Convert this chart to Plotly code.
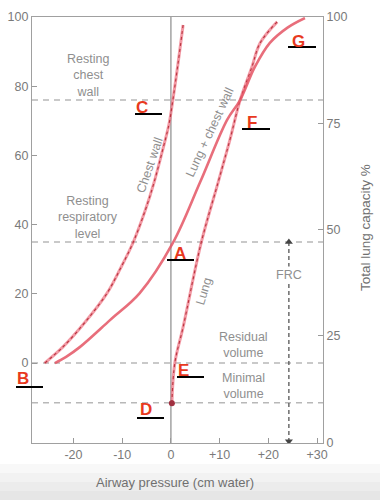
import plotly.graph_objects as go

# ---- data ----
chest_p = [-25.9, -22.2, -17.5, -13.1, -10.3, -7.8, -5.3, -3.5, -1.8, -0.4, 0.4, 1.5, 2.5]
chest_v = [0, 4.6, 12, 20.2, 27.5, 34.7, 44, 52, 61, 69, 76, 87, 97.7]

total_p = [-23.8, -21.5, -18.7, -12.5, -6.4, 0.4, 6.0, 11.5, 14.2, 17.2, 20.3, 24.0, 27.5]
total_v = [0, 1.8, 4.6, 12.4, 20.2, 34.7, 52.3, 70.2, 76, 85.5, 92.5, 97, 99.7]

lung_p = [0.2, 0.8, 2.5, 6.2, 9.7, 12.1, 14.2, 16.6, 18.3, 21.8]
lung_v = [-11.6, 0, 10.4, 34.7, 52.3, 64.5, 76, 85.5, 92.5, 98.6]

levels = [76, 35, 0, -11.5]          # resting chest wall, resting level, RV, minimal volume
frc_x = 24.2
frc_range = [35, -22.6]

x_ticks = [-20, -10, 0, 10, 20, 30]
x_labels = ["-20", "-10", "0", "+10", "+20", "+30"]
left_ticks = [0, 20, 40, 60, 80, 100]
right_ticks = [0, 25, 50, 75, 100]

X_RANGE = [-28.5, 31.2]
Y_RANGE = [-23.1, 100]
Y2_RANGE = [-0.2, 100]

W, H = 380, 500
L, R, T, B = 32, 57, 17, 57


def px(p):
    return (p - L) / (W - L - R)


def py(p):
    return (H - B - p) / (H - T - B)


PINK = "rgba(236,110,125,0.7)"
DARKRED = "#b8343f"
FONT = "Liberation Sans, Arial"

fig = go.Figure()

# horizontal dashed reference levels
for lv in levels:
    fig.add_trace(go.Scatter(x=X_RANGE, y=[lv, lv], mode="lines",
                             line=dict(color="#b8b8b8", width=1.5, dash="6px,5px"),
                             hoverinfo="skip", showlegend=False))

# vertical zero-pressure line
fig.add_trace(go.Scatter(x=[0, 0], y=Y_RANGE, mode="lines",
                         line=dict(color="#8c8c8c", width=1.2),
                         hoverinfo="skip", showlegend=False))

# FRC arrow
fig.add_trace(go.Scatter(x=[frc_x, frc_x], y=frc_range, mode="lines",
                         line=dict(color="#555555", width=1.3, dash="4px,3px"),
                         hoverinfo="skip", showlegend=False))
fig.add_trace(go.Scatter(x=[frc_x, frc_x], y=frc_range, mode="markers",
                         marker=dict(symbol=["triangle-up", "triangle-down"], size=7, color="#444444"),
                         hoverinfo="skip", showlegend=False))

# chest wall (dashed)
fig.add_trace(go.Scatter(x=chest_p, y=chest_v, mode="lines", line=dict(color=PINK, width=3, shape="spline"),
                         hoverinfo="skip", showlegend=False))
fig.add_trace(go.Scatter(x=chest_p, y=chest_v, mode="lines",
                         line=dict(color=DARKRED, width=1.1, shape="spline", dash="3px,3px"),
                         hoverinfo="skip", showlegend=False))

# lung (dashed)
fig.add_trace(go.Scatter(x=lung_p, y=lung_v, mode="lines", line=dict(color=PINK, width=3, shape="spline"),
                         hoverinfo="skip", showlegend=False))
fig.add_trace(go.Scatter(x=lung_p, y=lung_v, mode="lines",
                         line=dict(color=DARKRED, width=1.1, shape="spline", dash="3px,3px"),
                         hoverinfo="skip", showlegend=False))
fig.add_trace(go.Scatter(x=[lung_p[0]], y=[lung_v[0]], mode="markers",
                         marker=dict(size=6, color="#a03040"), hoverinfo="skip", showlegend=False))

# lung + chest wall (solid)
fig.add_trace(go.Scatter(x=total_p, y=total_v, mode="lines",
                         line=dict(color="rgba(228,85,100,0.85)", width=2.6, shape="spline"),
                         hoverinfo="skip", showlegend=False))

# invisible trace on right axis
fig.add_trace(go.Scatter(x=[X_RANGE[0]], y=[50], yaxis="y2", mode="markers",
                         marker=dict(opacity=0), hoverinfo="skip", showlegend=False))

ann = []
lab_font = dict(family=FONT, size=12.5, color="#8f8f8f")
ann.append(dict(x=-17, y=83, text="Resting<br>chest<br>wall", showarrow=False, font=lab_font))
ann.append(dict(x=-17, y=42.2, text="Resting<br>respiratory<br>level", showarrow=False, font=lab_font))
ann.append(dict(x=14.8, y=5.2, text="Residual<br>volume", showarrow=False, font=lab_font))
ann.append(dict(x=14.8, y=-6.6, text="Minimal<br>volume", showarrow=False, font=lab_font))
ann.append(dict(x=frc_x, y=25.4, text="FRC", showarrow=False, font=lab_font, bgcolor="white"))
ann.append(dict(x=-4.3, y=57.2, text="Chest wall", textangle=-71, showarrow=False, font=lab_font))
ann.append(dict(x=8.0, y=66.8, text="Lung + chest wall", textangle=-65, showarrow=False, font=lab_font))
ann.append(dict(x=6.8, y=20.8, text="Lung", textangle=-73, showarrow=False, font=lab_font))

# red letters with black underlines (pixel positions of the overlay)
letters = [("A", 180, 253, 167, 194, 260),
           ("B", 23, 378, 16, 43, 387),
           ("C", 142, 108, 135, 162, 114),
           ("D", 146, 409, 137, 164, 418),
           ("E", 183, 370, 177, 204, 377),
           ("F", 252, 122, 242, 270, 129),
           ("G", 298, 42, 288, 316, 47)]
shapes = []
for t, cx, cy, u0, u1, uy in letters:
    ann.append(dict(xref="paper", yref="paper", x=px(cx), y=py(cy), text="<b>%s</b>" % t,
                    xanchor="center", yanchor="middle",
                    showarrow=False, font=dict(family=FONT, size=17, color="#e8391e")))
    shapes.append(dict(type="line", xref="paper", yref="paper", x0=px(u0), x1=px(u1), y0=py(uy), y1=py(uy),
                       line=dict(color="black", width=2)))

# axis titles
ann.append(dict(xref="paper", yref="paper", x=px(175), y=py(482), text="Airway pressure (cm water)",
                xanchor="center", yanchor="middle",
                showarrow=False, font=dict(family=FONT, size=13, color="#707070")))
ann.append(dict(xref="paper", yref="paper", x=px(365), y=py(228), text="Total lung capacity %", textangle=-90,
                xanchor="center", yanchor="middle",
                showarrow=False, font=dict(family=FONT, size=13.5, color="#707070")))

# light gray gradient at the bottom of the screenshot
for i, c in enumerate(["#f8f8f8", "#f2f2f2", "#ececec", "#e6e6e6"]):
    shapes.append(dict(type="rect", xref="paper", yref="paper", layer="below", line=dict(width=0),
                       x0=px(0), x1=px(W), y0=py(H), y1=py(464 + i * 9), fillcolor=c))

tick_font = dict(family=FONT, size=12.5, color="#7a7a7a")
fig.update_layout(
    width=W, height=H, margin=dict(l=L, r=R, t=T, b=B, autoexpand=False),
    paper_bgcolor="white", plot_bgcolor="white",
    annotations=ann, shapes=shapes,
    xaxis=dict(range=X_RANGE, tickvals=x_ticks, ticktext=x_labels, ticks="inside", ticklen=5,
               tickcolor="#999", showline=True, linecolor="#a0a0a0", linewidth=1.2, mirror=True,
               showgrid=False, zeroline=False, tickfont=tick_font, automargin=False),
    yaxis=dict(range=Y_RANGE, tickvals=left_ticks, ticks="inside", ticklen=5, tickcolor="#999",
               showline=True, linecolor="#a0a0a0", linewidth=1.2, showgrid=False, zeroline=False,
               tickfont=tick_font, automargin=False),
    yaxis2=dict(range=Y2_RANGE, tickvals=right_ticks, overlaying="y", side="right", ticks="inside",
                ticklen=5, tickcolor="#999", showline=True, linecolor="#a0a0a0", linewidth=1.2,
                showgrid=False, zeroline=False, tickfont=tick_font, automargin=False),
)

fig.write_html("out.html", config={"displayModeBar": False},
               post_script="document.body.style.margin='0px';document.body.style.overflow='hidden';")
